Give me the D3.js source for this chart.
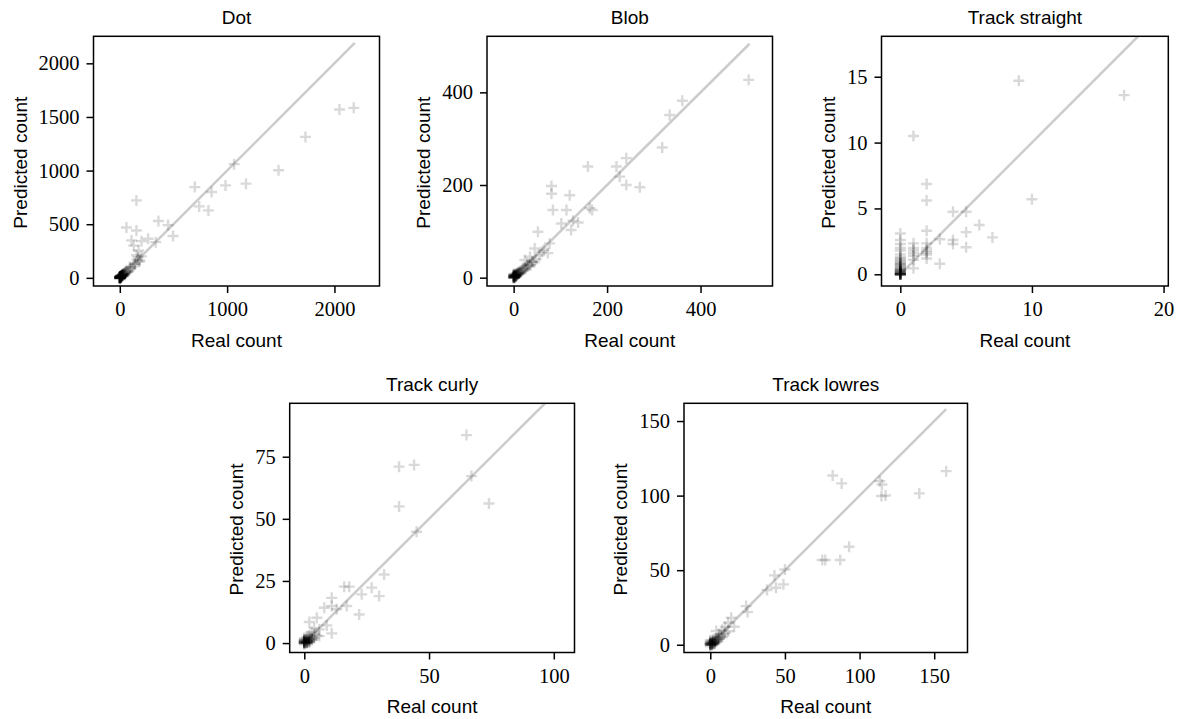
<!DOCTYPE html>
<html><head><meta charset="utf-8">
<script src="https://cdn.jsdelivr.net/npm/d3@7"></script>
<style>body{margin:0;background:#fff}svg{display:block}</style>
</head><body><svg id="c" width="1179" height="719"></svg>
<script>
// ---------- data ----------
const titles = ["Dot", "Blob", "Track straight", "Track curly", "Track lowres"];
const xLabel = "Real count";
const yLabel = "Predicted count";

const dotReal = [2047,2180,1730,1479,1065,1176,985,855,699,740,826,155,360,450,496,62,155,109,202,335,264,130,175,170,186,155,140,202,93,62,
  0,0,0,0,0,1,1,2,2,3,3,4,5,5,6,8,9,10,12,14,15,18,20,22,25,28,30,33,36,40,45,50,55,60,70,80,95,110,125,140,160,180,
  0,0,0,1,1,2,3,4,5,6,7,8,10,12,15,18,20,25,30,35,40,0,2,4,6,9,14,20,28,45];
const dotPred = [1570,1585,1314,1003,1060,878,862,800,846,666,629,722,530,492,390,470,442,349,342,333,364,300,255,193,162,210,131,200,99,68,
  0,2,5,8,12,3,6,4,10,7,15,5,9,14,11,12,18,16,20,22,19,25,24,30,28,33,27,35,40,38,45,42,50,55,60,58,80,95,110,130,170,150,
  0,1,3,0,4,2,5,6,3,8,9,7,10,13,12,15,20,22,26,30,34,-10,-5,0,2,6,10,15,20,30];

const blobReal = [503,361,334,318,241,220,227,241,270,159,163,168,120,81,81,84,113,127,102,123,138,52,77,73,45,60,24,29,35,40,
  0,0,0,0,0,1,1,2,2,3,3,4,5,5,6,7,8,9,10,11,12,14,15,16,18,20,22,24,26,28,30,33,36,40,44,48,55,65,
  0,0,0,1,1,2,2,3,4,5,6,7,8,10,12,0,1,3,5,0];
const blobPred = [427,382,351,281,258,240,218,200,195,240,150,146,178,198,181,146,146,123,117,103,119,99,74,53,63,56,38,30,45,35,
  0,1,3,5,8,2,4,1,6,3,7,5,4,9,6,8,10,7,12,9,11,13,15,12,16,18,17,21,20,25,24,28,27,34,33,40,48,60,
  0,2,4,0,3,1,5,2,4,3,6,5,7,9,10,1,0,2,3,6];

const straightReal = [9,17,1,2,2,10,4,5,6,5,7,5,4,4,3,3,2,2,2,2,2,2,1,1,1,1,1,1,1,2,
  0,0,0,0,0,0,0,0,0,0,0,0,0,0,0,0,0,0,0,0,0,0,0,0,0,0,0,0,0,0,0,0,0,0,0,0,0,0,0,0];
const straightPred = [14.7,13.6,10.5,6.85,5.6,5.7,4.75,4.75,3.74,3.2,2.8,2.05,2.6,2.3,2.66,0.8,3.3,2.35,2.0,1.65,1.2,1.8,2.35,2.0,1.6,1.1,0.45,1.8,1.4,1.5,
  3.1,2.6,2.3,2.0,1.8,1.5,1.3,1.1,0.9,0.8,0.7,0.6,0.5,0.4,0.35,0.3,0.25,0.2,0.15,0.1,0.1,0.05,0,0,0,0,0,0,0,0,0,0.05,0.1,0.2,0.3,0.4,0.6,0.8,1.0,1.2];

const curlyReal = [65,38,44,38,67,74,45,32,27,30,23,22,16,18,17,11,11,8,13,5,2,9,11,6,4,3,
  0,0,0,0,0,0,0,0,0,1,1,1,1,1,1,2,2,2,2,2,3,3,3,4,4,5,6,
  0,0,0,0,0,1,1,1,2,2,3,0,0,1,2];
const curlyPred = [83.7,71,71.7,55,67.2,56.2,44.8,27.6,22.3,18.9,19.6,11.5,22.7,22.7,14.9,18.2,14.9,14.2,13.6,10.2,8.5,7.1,3.9,5.5,6,4.5,
  0,0.3,0.6,1,1.5,2,0.2,0.8,0.1,0.5,1,1.8,2.5,0.3,0.1,1,2,3,0.7,1.4,1.5,2.6,1.2,3.5,2,3,2.8,
  0,0,0.4,1.2,-0.5,0,0.7,1.4,0.5,1.8,2,0.2,0.9,0.2,0.3];

const lowresReal = [158,140,113.6,115,114.7,117.4,82,88,93,75,77,87,50,43,49,44,38,24,25,14,16,12,4,8,10,6,
  0,0,0,0,0,0,1,1,1,2,2,2,3,3,4,4,5,5,6,7,8,9,10,12,1,2,3,
  0,0,0,0,1,1,2,2,3,4,5,0,1,2,6];
const lowresPred = [116.4,101.5,109.7,107.5,99.7,100.1,113.5,108.2,65.7,56.8,56.8,56.8,50.5,46.5,40.5,38.2,36.7,25.9,21.9,18.1,12.1,14.7,9.2,10,12,7,
  0,0.5,1,2,3,0.2,0.5,1.5,2.5,1,2,3.5,1,3,2,4,3,5,4,6,5,7,8,9,0.3,0.6,0.8,
  0,0.5,1.5,-1,0,1,0.5,1.5,2,2.5,4,0.8,0.2,2.5,5];

const lineMax = [2190, 505, 20, 110, 158];
const xTicks = [[0,1000,2000],[0,200,400],[0,10,20],[0,50,100],[0,50,100,150]];
const yTicks = [[0,500,1000,1500,2000],[0,200,400],[0,5,10,15],[0,25,50,75],[0,50,100,150]];
const xDomains = [[-245,2420],[-57,554],[-1.43,20.36],[-5.85,108.3],[-17.6,172.3]];
const yDomains = [[-76,2252],[-18,521],[-0.89,18.07],[-3.8,96.5],[-5.2,161.9]];

// ---------- layout ----------
const boxes = [
  {l:93.5, r:379.5, t:36.3, b:286},
  {l:487, r:772.5, t:36.3, b:286},
  {l:881.5, r:1168.3, t:36.3, b:286},
  {l:289.7, r:574.5, t:403.3, b:652.5},
  {l:684, r:967.5, t:403.3, b:652.5}
];
const sets = [[dotReal,dotPred],[blobReal,blobPred],[straightReal,straightPred],[curlyReal,curlyPred],[lowresReal,lowresPred]];
const SANS = "'Liberation Sans', Arial, sans-serif";
const SERIF = "'Liberation Serif', 'Times New Roman', serif";

const svg = d3.select("#c");
const defs = svg.append("defs");

boxes.forEach((bx, i) => {
  const [real, pred] = sets[i];
  const x = d3.scaleLinear().domain(xDomains[i]).range([bx.l, bx.r]);
  const y = d3.scaleLinear().domain(yDomains[i]).range([bx.b, bx.t]);
  const cid = "clip" + i;
  defs.append("clipPath").attr("id", cid).append("rect")
    .attr("x", bx.l).attr("y", bx.t).attr("width", bx.r - bx.l).attr("height", bx.b - bx.t);
  const g = svg.append("g").attr("clip-path", `url(#${cid})`);

  g.append("line")
    .attr("x1", x(0)).attr("y1", y(0))
    .attr("x2", x(lineMax[i])).attr("y2", y(lineMax[i]))
    .attr("stroke", "#000").attr("stroke-opacity", 0.2).attr("stroke-width", 2.6);

  g.selectAll("path.m").data(d3.range(real.length)).join("path")
    .attr("class", "m")
    .attr("transform", j => `translate(${x(real[j])},${y(pred[j])})`)
    .attr("d", "M-5.5,0H5.5M0,-5.5V5.5")
    .attr("fill", "none").attr("stroke", "#000")
    .attr("stroke-opacity", 0.15).attr("stroke-width", 2.4);

  // axes
  const ax = svg.append("g").attr("transform", `translate(0,${bx.b})`)
    .call(d3.axisBottom(x).tickValues(xTicks[i]).tickSize(7).tickPadding(8.7).tickFormat(d3.format("d")));
  const ay = svg.append("g").attr("transform", `translate(${bx.l},0)`)
    .call(d3.axisLeft(y).tickValues(yTicks[i]).tickSize(7).tickPadding(7).tickFormat(d3.format("d")));
  [ax, ay].forEach(a => {
    a.select(".domain").remove();
    a.attr("font-family", SERIF).attr("font-size", 20.5);
    a.selectAll(".tick line").attr("stroke", "#000").attr("stroke-width", 1.5);
    a.selectAll(".tick text").attr("fill", "#000");
  });

  svg.append("rect")
    .attr("x", bx.l).attr("y", bx.t).attr("width", bx.r - bx.l).attr("height", bx.b - bx.t)
    .attr("fill", "none").attr("stroke", "#000").attr("stroke-width", 1.5);

  const cx = (bx.l + bx.r) / 2, cy = (bx.t + bx.b) / 2;
  svg.append("text").text(titles[i])
    .attr("x", cx).attr("y", bx.t - 12.8).attr("text-anchor", "middle")
    .attr("font-family", SANS).attr("font-size", 19).attr("fill", "#000");
  svg.append("text").text(xLabel)
    .attr("x", cx).attr("y", bx.b + 60.6).attr("text-anchor", "middle")
    .attr("font-family", SANS).attr("font-size", 19).attr("fill", "#000");

  let maxW = 0;
  ay.selectAll(".tick text").each(function(){ maxW = Math.max(maxW, this.getComputedTextLength()); });
  const lx = bx.l - 14 - maxW - 12;
  svg.append("text").text(yLabel)
    .attr("transform", `translate(${lx},${cy + 1.5}) rotate(-90)`)
    .attr("text-anchor", "middle")
    .attr("font-family", SANS).attr("font-size", 19).attr("fill", "#000");
});
</script>
</body></html>
